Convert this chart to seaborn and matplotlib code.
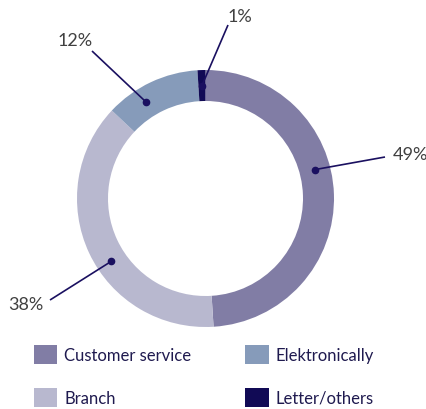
import numpy as np
import matplotlib
matplotlib.use("Agg")
import matplotlib.pyplot as plt
import matplotlib.patches as mpatches
import seaborn as sns

# ---- data ----
categories = ["Customer service", "Branch", "Elektronically", "Letter/others"]
shares = [49, 38, 12, 1]
labels = ["49%", "38%", "12%", "1%"]
colors = ["#817da5", "#b8b8cf", "#869bba", "#110a55"]

# ---- layout (pixel coordinates, y from top) ----
W, H = 427, 410
center_px = (205.5, 199.5)
r_out, ring_w = 128.5, 31
dot_angle = [14.8, 213.7, 121.6, 91.8]   # degrees, where the leader line touches the ring
line_end_px = [(385, 158), (50, 301), (92, 52), (228, 26)]
text_px = [(393, 155, "left"), (43, 305, "right"), (75, 41, "center"), (240, 17, "center")]

sns.set_theme(style="white")
plt.rcParams["font.family"] = ["Lato", "DejaVu Sans"]

fig = plt.figure(figsize=(W / 100, H / 100), dpi=100)
ax = fig.add_axes([0, 0, 1, 1])

cx, cy = center_px[0], H - center_px[1]
wedges, _ = ax.pie(shares, colors=colors, startangle=90, counterclock=False,
                   radius=r_out, center=(cx, cy), frame=True,
                   wedgeprops=dict(width=ring_w, linewidth=0))
ax.set_xlim(0, W)
ax.set_ylim(0, H)
ax.set_aspect("equal")
ax.axis("off")

line_col = "#1a1060"
r_mid = r_out - ring_w / 2
for lab, ang, (lx, ly), (tx, ty, ha) in zip(labels, dot_angle, line_end_px, text_px):
    a = np.deg2rad(ang)
    px, py = cx + r_mid * np.cos(a), cy + r_mid * np.sin(a)
    ax.plot([px, lx], [py, H - ly], color=line_col, lw=1.2, solid_capstyle="butt")
    ax.plot([px], [py], marker="o", ms=4.5, color=line_col)
    ax.text(tx, H - ty, lab, ha=ha, va="center", fontsize=13, color="#404040")

handles = [mpatches.Patch(facecolor=c, edgecolor="none", label=n) for c, n in zip(colors, categories)]
leg = ax.legend(handles=handles, ncol=2, loc="upper left",
                bbox_to_anchor=(34 / W, 1 - 346 / H), frameon=False,
                fontsize=12, handlelength=1.4, handleheight=1.4,
                handletextpad=0.4, labelspacing=1.4, columnspacing=3.25,
                borderpad=0, borderaxespad=0)
for t in leg.get_texts():
    t.set_color("#1f1a4f")

fig.savefig("out.png", dpi=100)
